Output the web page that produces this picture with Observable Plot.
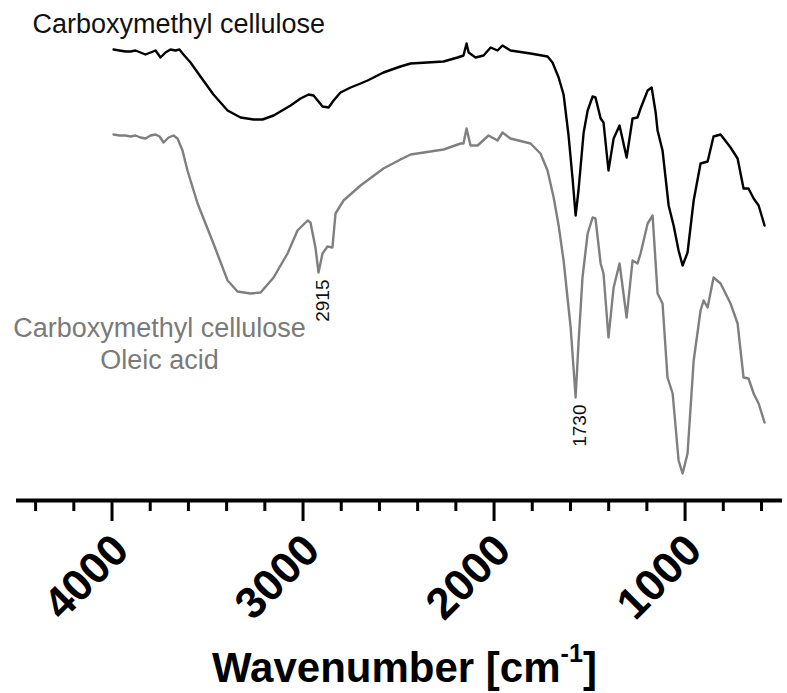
<!DOCTYPE html>
<html>
<head>
<meta charset="utf-8">
<script src="https://cdn.jsdelivr.net/npm/d3@7"></script>
<script src="https://cdn.jsdelivr.net/npm/@observablehq/plot@0.6"></script>
<style>
  body { margin: 0; background: #fff; font-family: "Liberation Sans", Arial, Helvetica, sans-serif; }
  #chart svg { overflow: visible; display: block; }
  .x-title {
    width: 787px; box-sizing: border-box; padding-left: 22px;
    text-align: center; font-size: 42px; font-weight: bold; color: #000;
    height: 46px; line-height: 46px; margin-top: 5px;
  }
  .x-title sup { font-size: 0.6em; line-height: 0; vertical-align: 0.8em; }
</style>
</head>
<body>
<div id="chart"></div>
<div class="x-title">Wavenumber [cm<sup>-1</sup>]</div>
<script>
// FTIR spectra (offset transmittance, arbitrary units) against wavenumber in cm-1
const cmcWavenumber = [
  3992, 3961, 3929, 3903, 3877, 3851, 3825, 3798, 3772, 3746, 3720, 3694, 3668, 3647, 3626,
  3589, 3537, 3469, 3395, 3327, 3259, 3212, 3154, 3065, 3013, 2971, 2945, 2919, 2898, 2866,
  2840, 2804, 2751, 2699, 2662, 2579, 2490, 2437, 2264, 2191, 2160, 2144, 2133, 2097, 2055,
  2018, 1982, 1956, 1914, 1809, 1720, 1694, 1662, 1636, 1610, 1589, 1573, 1558, 1531, 1510,
  1484, 1469, 1442, 1427, 1401, 1374, 1343, 1306, 1275, 1249, 1233, 1196, 1175, 1154, 1144,
  1118, 1086, 1060, 1034, 1013, 987, 955, 919, 882, 851, 814, 762, 725, 694, 668,
  641, 615, 584
];
const cmcSignal = [
  90.2, 90.0, 89.8, 89.8, 90.0, 89.6, 89.2, 89.6, 90.0, 88.6, 89.6, 90.2, 90.0, 90.2, 89.2,
  87.6, 84.8, 81.2, 78.0, 76.6, 76.2, 76.2, 77.0, 79.0, 80.4, 81.2, 81.0, 79.8, 78.8, 78.6,
  80.0, 81.6, 82.6, 83.4, 84.0, 85.6, 86.8, 87.4, 87.8, 88.6, 89.0, 91.4, 89.6, 88.6, 89.0,
  90.6, 90.0, 91.0, 90.0, 89.4, 88.8, 87.6, 84.6, 81.2, 73.0, 64.4, 57.0, 62.0, 73.6, 78.0,
  80.8, 80.6, 76.4, 75.6, 66.0, 72.4, 75.0, 68.6, 76.4, 76.6, 78.4, 82.0, 82.6, 77.6, 74.0,
  70.0, 59.0, 55.0, 50.0, 47.0, 49.6, 60.0, 67.4, 67.8, 72.8, 73.2, 70.6, 68.4, 62.4, 62.4,
  60.4, 59.0, 55.0
];

const cmcOaWavenumber = [
  3992, 3961, 3929, 3903, 3877, 3851, 3825, 3798, 3772, 3751, 3730, 3704, 3678, 3657, 3631,
  3605, 3552, 3469, 3395, 3343, 3275, 3222, 3154, 3081, 3029, 2976, 2961, 2935, 2919, 2898,
  2872, 2846, 2830, 2788, 2699, 2579, 2490, 2437, 2264, 2175, 2160, 2144, 2123, 2086, 2029,
  1982, 1956, 1914, 1809, 1757, 1720, 1688, 1662, 1636, 1599, 1573, 1558, 1537, 1510, 1484,
  1469, 1442, 1427, 1401, 1374, 1343, 1306, 1275, 1249, 1233, 1196, 1170, 1144, 1118, 1092,
  1065, 1034, 1013, 987, 955, 919, 903, 882, 851, 814, 762, 725, 694, 668, 641,
  615, 584
];
const cmcOaSignal = [
  73.2, 73.0, 73.0, 72.8, 73.0, 72.6, 72.4, 73.0, 73.2, 72.8, 71.6, 72.6, 73.0, 72.4, 70.0,
  66.0, 59.4, 51.4, 44.0, 41.8, 41.4, 41.6, 44.6, 49.4, 54.0, 56.0, 55.6, 50.6, 45.6, 49.4,
  50.8, 50.6, 57.4, 60.0, 63.0, 66.4, 68.2, 69.2, 70.2, 71.4, 71.4, 74.4, 71.0, 71.0, 73.0,
  72.0, 73.6, 72.4, 71.4, 69.4, 66.0, 60.6, 55.0, 48.0, 34.6, 20.6, 31.4, 44.6, 53.4, 56.6,
  56.4, 47.4, 45.4, 32.6, 42.6, 47.4, 36.6, 48.0, 47.4, 49.4, 55.4, 57.0, 41.4, 39.4, 24.6,
  21.4, 8.0, 5.4, 9.4, 28.0, 38.0, 40.0, 38.6, 44.6, 43.4, 39.4, 35.4, 24.6, 24.4, 21.4,
  19.4, 15.6
];

const seriesNames = ["Carboxymethyl cellulose", "Carboxymethyl cellulose\nOleic acid"];

// Marked absorption bands: label text and the wavenumber window searched for the band minimum
const peakLabels = ["2915", "1730"];
const peakWindows = [[2960, 2880], [1700, 1500]];

const majorTicks = [4000, 3000, 2000, 1000];
const minorTicks = [4400, 4200, 3800, 3600, 3400, 3200, 2800, 2600, 2400, 2200,
                    1800, 1600, 1400, 1200, 800, 600];

const cmc = cmcWavenumber.map((w, i) => ({w, t: cmcSignal[i]}));
const cmcOa = cmcOaWavenumber.map((w, i) => ({w, t: cmcOaSignal[i]}));

const peaks = peakLabels.map((label, i) => {
  const [hi, lo] = peakWindows[i];
  const inWindow = cmcOa.filter(d => d.w <= hi && d.w >= lo);
  const min = d3.least(inWindow, d => d.t);
  return {label, w: min.w, t: min.t};
});

const font = "Liberation Sans, Arial, Helvetica, sans-serif";

const chart = Plot.plot({
  width: 787,
  height: 640,
  marginLeft: 16,
  marginRight: 5,
  marginTop: 0,
  marginBottom: 140,
  style: {fontFamily: font, background: "#fff"},
  x: {domain: [4500, 490], axis: null},
  y: {domain: [0, 100], axis: null},
  marks: [
    Plot.line(cmcOa, {x: "w", y: "t", stroke: "#7f7f7f", strokeWidth: 2.4, strokeLinejoin: "round"}),
    Plot.line(cmc, {x: "w", y: "t", stroke: "#000", strokeWidth: 2.4, strokeLinejoin: "round"}),
    Plot.ruleY([0], {stroke: "#000", strokeWidth: 4}),
    Plot.axisX(minorTicks, {anchor: "bottom", tickSize: 11, strokeWidth: 3, tickFormat: () => "", label: null}),
    Plot.axisX(majorTicks, {anchor: "bottom", tickSize: 21, strokeWidth: 3, tickFormat: () => "", label: null}),
    Plot.text(majorTicks, {
      x: d => d, frameAnchor: "bottom", text: d => String(d),
      rotate: -45, textAnchor: "end", lineAnchor: "top",
      dx: -3, dy: 30, fontSize: 44, fontWeight: "bold", fill: "#000"
    }),
    Plot.text(peaks, {
      x: "w", y: "t", text: "label", rotate: -90,
      textAnchor: "end", lineAnchor: "middle",
      dx: 4, dy: 7, fontSize: 19, fill: "#111"
    }),
    Plot.text([seriesNames[0]], {
      frameAnchor: "top-left", textAnchor: "start", lineAnchor: "bottom",
      dx: 16, dy: 32, fontSize: 27, fill: "#111"
    }),
    Plot.text([seriesNames[1]], {
      frameAnchor: "top-left", textAnchor: "middle", lineAnchor: "bottom",
      dx: 143, dy: 368, fontSize: 27, lineHeight: 1.15, fill: "#7a7a7a"
    })
  ]
});

document.getElementById("chart").appendChild(chart);
</script>
</body>
</html>
